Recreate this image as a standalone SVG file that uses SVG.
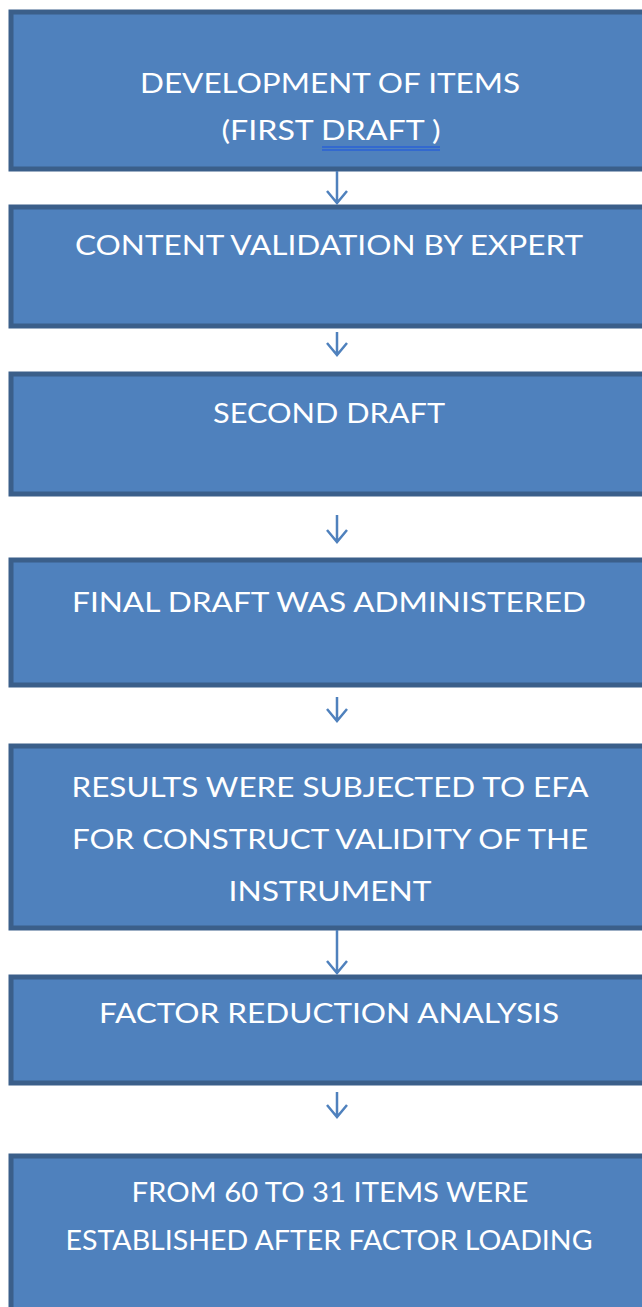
<svg xmlns="http://www.w3.org/2000/svg" width="642" height="1307" viewBox="0 0 642 1307">
<defs>
<style>
.box{fill:#4f81bd;stroke:#3b5f8a;stroke-width:5}
.t{font-family:Lato,"Open Sans",sans-serif;font-size:27px;fill:#ffffff;text-anchor:middle}
.c{stroke:#4f81bd;stroke-width:2.5;fill:none}
</style>
</defs>
<rect width="642" height="1307" fill="#ffffff"/>
<g id="n1"><rect class="box" x="11" y="12" width="640" height="157"/>
<text class="t" x="330" y="93" textLength="380" lengthAdjust="spacingAndGlyphs">DEVELOPMENT OF ITEMS</text>
<text class="t" x="331" y="140" textLength="219" lengthAdjust="spacingAndGlyphs">(FIRST DRAFT )</text>
<line x1="322" y1="147" x2="440" y2="147" stroke="#2a62d6" stroke-width="1.5"/>
<line x1="322" y1="150" x2="440" y2="150" stroke="#2a62d6" stroke-width="1.5"/></g>
<g id="n2"><rect class="box" x="11" y="207" width="640" height="119"/>
<text class="t" x="329" y="255" textLength="508" lengthAdjust="spacingAndGlyphs">CONTENT VALIDATION BY EXPERT</text></g>
<g id="n3"><rect class="box" x="11" y="374" width="640" height="120"/>
<text class="t" x="329" y="423" textLength="232" lengthAdjust="spacingAndGlyphs">SECOND DRAFT</text></g>
<g id="n4"><rect class="box" x="11" y="560" width="640" height="125"/>
<text class="t" x="329" y="612" textLength="514" lengthAdjust="spacingAndGlyphs">FINAL DRAFT WAS ADMINISTERED</text></g>
<g id="n5"><rect class="box" x="11" y="746" width="640" height="182"/>
<text class="t" x="330" y="797" textLength="517" lengthAdjust="spacingAndGlyphs">RESULTS WERE SUBJECTED TO EFA</text>
<text class="t" x="330" y="849" textLength="516" lengthAdjust="spacingAndGlyphs">FOR CONSTRUCT VALIDITY OF THE</text>
<text class="t" x="330" y="901" textLength="203" lengthAdjust="spacingAndGlyphs">INSTRUMENT</text></g>
<g id="n6"><rect class="box" x="11" y="977" width="640" height="106"/>
<text class="t" x="329" y="1023" textLength="460" lengthAdjust="spacingAndGlyphs">FACTOR REDUCTION ANALYSIS</text></g>
<g id="n7"><rect class="box" x="11" y="1156" width="640" height="170"/>
<text class="t" x="330" y="1202" textLength="397" lengthAdjust="spacingAndGlyphs">FROM 60 TO 31 ITEMS WERE</text>
<text class="t" x="329" y="1250" textLength="527" lengthAdjust="spacingAndGlyphs">ESTABLISHED AFTER FACTOR LOADING</text></g>
<g id="connectors">
<path class="c" d="M337 171V203M327 191L337 203L347 191"/>
<path class="c" d="M337 332V355M327 343L337 355L347 343"/>
<path class="c" d="M337 515V542M327 530L337 542L347 530"/>
<path class="c" d="M337 697V721M327 709L337 721L347 709"/>
<path class="c" d="M337 930V973M327 961L337 973L347 961"/>
<path class="c" d="M337 1092V1117M327 1105L337 1117L347 1105"/>
</g>
</svg>
